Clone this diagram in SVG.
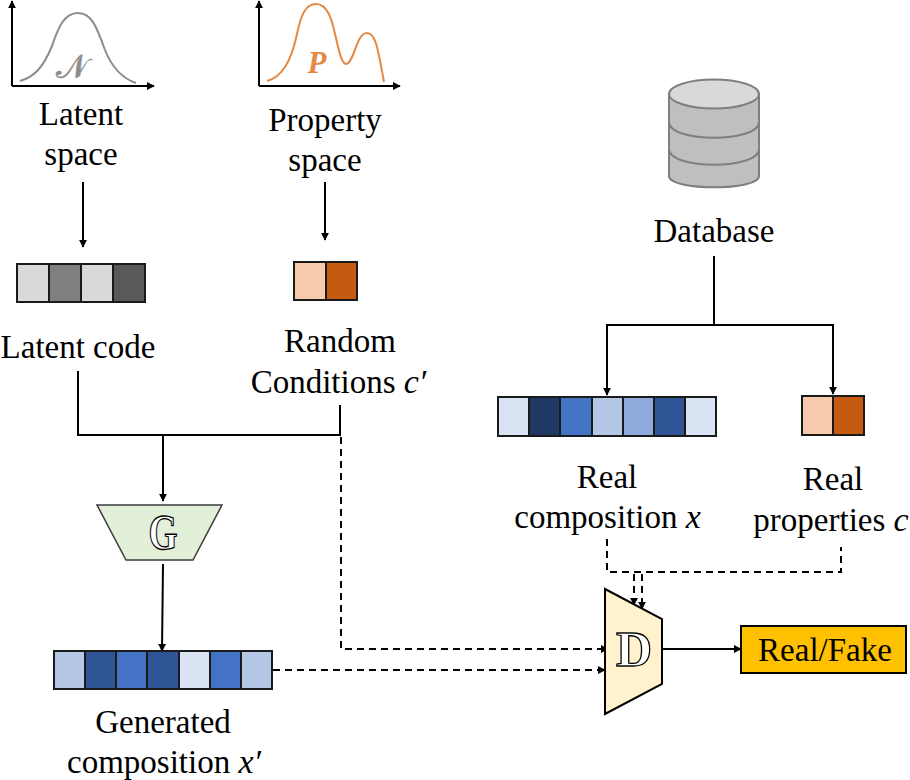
<svg xmlns="http://www.w3.org/2000/svg" width="910" height="780" viewBox="0 0 910 780">
<style>
text{font-family:"Liberation Serif","Times New Roman",serif;font-size:33px;fill:#000;text-anchor:middle}
.m{font-style:italic;font-size:34px}
.c{stroke:#000;stroke-width:2;fill:none}
.d{stroke-dasharray:7 5}
.cell{stroke:#1a1a1a;stroke-width:2}
.db{fill:#bfbfbf;stroke:#7f7f7f;stroke-width:2}
.gly{font-size:50px;font-weight:bold;fill:#fff;stroke:#000;stroke-width:1.300}
</style>
<defs>
<marker id="b" viewBox="0 0 10 10" refX="9" refY="5" markerWidth="8" markerHeight="8" orient="auto" markerUnits="userSpaceOnUse"><path d="M0 0L10 5L0 10z" fill="#000"/></marker>
</defs>
<g id="connectors">
<path class="c" marker-end="url(#b)" d="M12 86V1"/><path class="c" marker-end="url(#b)" d="M12 86H154"/>
<path class="c" marker-end="url(#b)" d="M259 86V1"/><path class="c" marker-end="url(#b)" d="M259 86H400"/>
<path class="c" marker-end="url(#b)" d="M83 182V247"/>
<path class="c" marker-end="url(#b)" d="M325 182V240"/>
<path class="c" d="M78 371V435H340V405"/>
<path class="c" marker-end="url(#b)" d="M163 435V501"/>
<path class="c" marker-end="url(#b)" d="M163 564L162 651"/>
<path class="c d" marker-end="url(#b)" d="M341 437V649H608"/>
<path class="c d" marker-end="url(#b)" d="M273 670H605"/>
<path class="c" d="M714 256V325"/>
<path class="c" marker-end="url(#b)" d="M714 325H607V395"/>
<path class="c" marker-end="url(#b)" d="M714 325H833V394"/>
<path class="c d" d="M607 539V572H841V547"/>
<path class="c d" marker-end="url(#b)" d="M634 574V605"/>
<path class="c d" marker-end="url(#b)" d="M642 574V609"/>
<path class="c" marker-end="url(#b)" d="M662 649H741"/>
</g>
<g id="latent-space">
<path d="M20 81C34 77 43 68 52 46C58 28 64 13 78 13C92 13 97 28 105 50C113 70 124 79 136 83" fill="none" stroke="#8c8c8c" stroke-width="2"/>
<text x="72" y="78" style="font-size:33px;fill:#8c8c8c;stroke:#8c8c8c;stroke-width:0.600;font-family:'DejaVu Sans',sans-serif">𝒩</text>
<text x="81" y="125">Latent</text><text x="81" y="165">space</text>
</g>
<g id="property-space">
<path d="M267 81C282 77 291 62 297 34C301 14 306 4 316 4C328 4 332 20 336 38C339 52 342 64 346 64C354 64 356 33 367 33C376 33 378 50 384 82" fill="none" stroke="#e58a45" stroke-width="2"/>
<text x="317" y="73" style="font-size:31px;fill:#e58a45;font-style:italic;font-weight:bold">P</text>
<text x="325" y="131">Property</text><text x="325" y="171">space</text>
</g>
<g id="database">
<path class="db" d="M669 93V176C669 191 759 191 759 176V93"/>
<path class="db" style="fill:none" d="M669 122C669 143 759 143 759 122M669 149C669 170 759 170 759 149"/>
<ellipse cx="714" cy="94" rx="45" ry="14.500" fill="#d9d9d9" stroke="#7f7f7f" stroke-width="2"/>
<text x="714" y="242">Database</text>
</g>
<g id="latent-code">
<rect class="cell" x="17" y="264" width="32" height="38" fill="#d9d9d9"/><rect class="cell" x="49" y="264" width="32" height="38" fill="#7f7f7f"/><rect class="cell" x="81" y="264" width="32" height="38" fill="#d9d9d9"/><rect class="cell" x="113" y="264" width="32" height="38" fill="#595959"/>
<text x="78" y="358">Latent code</text>
</g>
<g id="random-conditions">
<rect class="cell" x="294" y="262" width="32" height="38" fill="#f8cbad"/><rect class="cell" x="326" y="262" width="31" height="38" fill="#c55a11"/>
<text x="340" y="352">Random</text><text x="338.500" y="393">Conditions <tspan class="m">c′</tspan></text>
</g>
<g id="real-composition">
<rect class="cell" x="498" y="397" width="31" height="39" fill="#dae3f3"/><rect class="cell" x="529" y="397" width="31" height="39" fill="#1f3864"/><rect class="cell" x="560" y="397" width="32" height="39" fill="#4472c4"/><rect class="cell" x="592" y="397" width="31" height="39" fill="#b4c7e7"/><rect class="cell" x="623" y="397" width="31" height="39" fill="#8faadc"/><rect class="cell" x="654" y="397" width="31" height="39" fill="#2f5597"/><rect class="cell" x="685" y="397" width="31" height="39" fill="#dae3f3"/>
<text x="607" y="488">Real</text><text x="607.500" y="528">composition <tspan class="m">x</tspan></text>
</g>
<g id="real-properties">
<rect class="cell" x="802" y="396" width="31" height="39" fill="#f8cbad"/><rect class="cell" x="833" y="396" width="31" height="39" fill="#c55a11"/>
<text x="833" y="490">Real</text><text x="831" y="531">properties <tspan class="m">c</tspan></text>
</g>
<g id="generator">
<path d="M97 505H222L193 560H126z" fill="#e2f0d9" stroke="#3b3b3b" stroke-width="1.500"/>
<text class="gly" x="163" y="549" textLength="29" lengthAdjust="spacingAndGlyphs">G</text>
</g>
<g id="generated-composition">
<rect class="cell" x="54" y="651" width="31" height="38" fill="#b4c7e7"/><rect class="cell" x="85" y="651" width="31" height="38" fill="#2f5597"/><rect class="cell" x="116" y="651" width="31" height="38" fill="#4472c4"/><rect class="cell" x="147" y="651" width="32" height="38" fill="#2f5597"/><rect class="cell" x="179" y="651" width="31" height="38" fill="#dae3f3"/><rect class="cell" x="210" y="651" width="31" height="38" fill="#4472c4"/><rect class="cell" x="241" y="651" width="31" height="38" fill="#b4c7e7"/>
<text x="163" y="733">Generated</text><text x="164" y="773">composition <tspan class="m">x′</tspan></text>
</g>
<g id="discriminator">
<path d="M605 589L662 619V684L605 714z" fill="#fff2cc" stroke="#000" stroke-width="2"/>
<text class="gly" x="634" y="666">D</text>
</g>
<g id="real-fake">
<rect x="741" y="626" width="165" height="47" fill="#ffc000" stroke="#000" stroke-width="2"/>
<text x="825" y="661">Real/Fake</text>
</g>
</svg>
